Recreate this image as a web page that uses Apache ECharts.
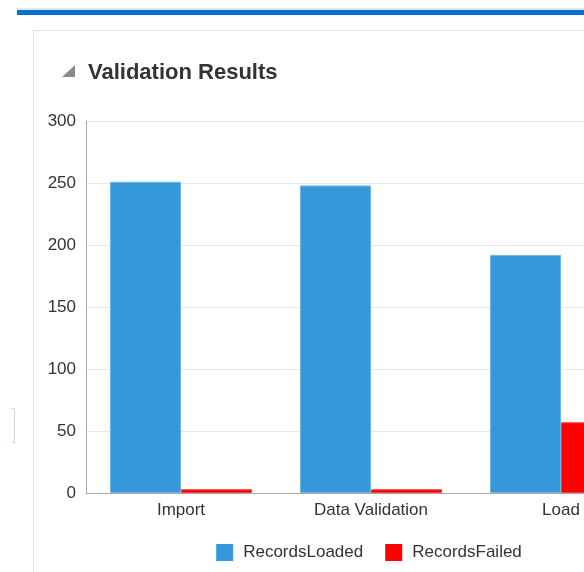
<!DOCTYPE html>
<html>
<head>
<meta charset="utf-8">
<script src="https://cdn.jsdelivr.net/npm/echarts@6/dist/echarts.min.js"></script>
<style>
  html, body { margin: 0; padding: 0; width: 584px; height: 572px; overflow: hidden; background: #fff; }
  #topline { position: absolute; left: 16px; top: 8px; width: 600px; height: 2px; background: #e6e6e6; }
  #topbar { position: absolute; left: 17px; top: 10px; width: 600px; height: 5px; background: #0a6fcf; }
  #panel { position: absolute; left: 33px; top: 30px; width: 700px; height: 600px; border-left: 1px solid #dde3ea; border-top: 1px solid #dde3ea; box-sizing: border-box; }
  #bracket { position: absolute; left: 12px; top: 408px; width: 3px; height: 35px; border: 1px solid #d3d8de; border-left: none; box-sizing: border-box; }
  #chart { position: absolute; left: 33px; top: 0px; width: 672px; height: 572px; }
</style>
</head>
<body>
<div id="topline"></div>
<div id="topbar"></div>
<div id="panel"></div>
<div id="bracket"></div>
<div id="chart"></div>
<script>
const categories = ['Import', 'Data Validation', 'Load'];
const recordsLoaded = [251, 248, 192];
const recordsFailed = [3, 3, 57];
const seriesNames = ['RecordsLoaded', 'RecordsFailed'];
const yTicks = { min: 0, max: 300, interval: 50 };

const FONT = 'Liberation Sans, Arial, sans-serif';
const chart = echarts.init(document.getElementById('chart'), null, { renderer: 'canvas' });
chart.setOption({
  animation: false,
  textStyle: { fontFamily: FONT },
  title: {
    text: 'Validation Results',
    left: 50,
    top: 57,
    textStyle: { fontSize: 22, fontWeight: 'bold', color: '#333333', fontFamily: FONT }
  },
  graphic: [{
    type: 'polygon',
    shape: { points: [[29, 77], [42, 77], [42, 65]] },
    style: { fill: '#8a8a8a' }
  }],
  legend: {
    bottom: 6,
    left: 'center',
    itemWidth: 17,
    itemHeight: 17,
    itemGap: 22,
    icon: 'rect',
    itemStyle: { borderWidth: 0 },
    textStyle: { fontSize: 17, color: '#333333', fontFamily: FONT, padding: [0, 0, 0, 5] },
    data: seriesNames
  },
  grid: { left: 53, right: 49, top: 121, bottom: 79, containLabel: false },
  xAxis: {
    type: 'category',
    data: categories,
    axisTick: { show: false },
    axisLine: { lineStyle: { color: '#a8a8a8', width: 1 } },
    axisLabel: { fontSize: 17, color: '#333333', margin: 9 }
  },
  yAxis: {
    type: 'value',
    min: yTicks.min, max: yTicks.max, interval: yTicks.interval,
    axisLine: { show: true, lineStyle: { color: '#a8a8a8', width: 1 } },
    axisTick: { show: false },
    axisLabel: { fontSize: 17, color: '#333333', margin: 10 },
    splitLine: { lineStyle: { color: '#e4e8ee', width: 1 } }
  },
  series: [
    {
      name: seriesNames[0], type: 'bar', data: recordsLoaded,
      barWidth: 71, barGap: '0%',
      itemStyle: { color: '#3598db', borderColor: '#6fb6e8', borderWidth: 1 }
    },
    {
      name: seriesNames[1], type: 'bar', data: recordsFailed,
      barWidth: 71, barGap: '0%',
      itemStyle: { color: '#ff0000', borderColor: '#ff3b3b', borderWidth: 1 }
    }
  ]
});
</script>
</body>
</html>
